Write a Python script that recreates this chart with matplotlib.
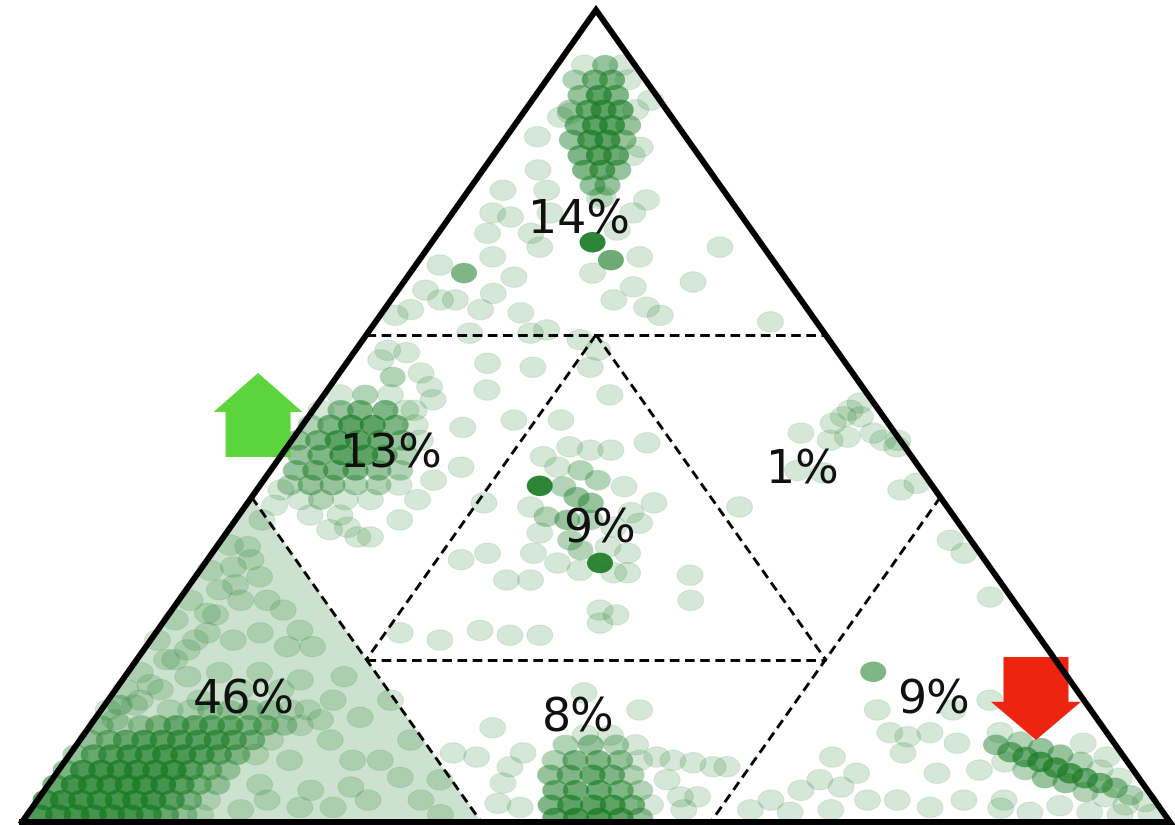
import numpy as np
import matplotlib
matplotlib.use("Agg")
import matplotlib.pyplot as plt
from matplotlib.path import Path
from matplotlib.patches import Polygon, FancyArrow

GREEN = '#177a22'
POINT_ALPHA = 0.18
EDGE_ALPHA = 0.12

# compositions as (top %, right %, n) ; left % = 100 - top - right
# n = how many observations sit on the same spot (default 1)
top_pts = [
    (93.2, 2.4, 1), (93.2, 4.2, 3), (93.2, 5.7, 1),
    (91.4, 2.5, 2), (91.4, 4.2, 4), (91.4, 5.7, 4), (91.4, 7.1, 1),
    (89.5, 3.9, 3), (89.5, 5.5, 6), (89.5, 7.0, 4),
    (87.7, 3.9, 2), (87.7, 5.5, 5), (87.7, 6.8, 6), (87.7, 8.3, 5), (87.7, 9.6, 1),
    (85.8, 5.5, 4), (85.8, 7.0, 6), (85.8, 8.5, 6), (85.8, 9.9, 3),
    (84.0, 5.9, 3), (84.0, 7.5, 6), (84.0, 9.0, 6), (84.0, 10.4, 3),
    (82.1, 7.6, 4), (82.1, 9.2, 6), (82.1, 10.7, 5), (82.1, 12.1, 1),
    (80.3, 8.9, 4), (80.3, 10.4, 5), (80.3, 11.8, 3),
    (78.4, 10.5, 3), (78.4, 11.8, 3), (76.8, 11.9, 1),
    (86.8, 3.5), (87.3, 4.1),
    (84.4, 2.7), (80.3, 4.8), (77.8, 3.0), (75.0, 3.5), (74.5, 5.3), (77.8, 6.8),
    (75.0, 8.5), (72.5, 4.3), (72.5, 8.1), (69.6, 6.2), (70.8, 9.7), (65.1, 8.5),
    (67.1, 9.3), (63.1, 8.4), (62.7, 12.1), (60.6, 15.4), (67.6, 15.9), (64.3, 19.4),
    (65.9, 20.3), (63.4, 22.7), (69.6, 19.0), (75.0, 15.7), (76.6, 16.1), (83.1, 12.3),
    (88.9, 10.3), (70.8, 25.4), (66.5, 25.2), (72.9, 15.4), (77.0, 12.1), (68.6, 2.1),
    (65.5, 2.4), (64.3, 4.3), (64.3, 5.6), (63.1, 2.3), (62.4, 1.3), (61.6, 34.4),
    (62.4, 24.4), (60.2, 14.2), (60.2, 8.9),
    (71.4, 14.0, 12), (69.2, 16.7, 5), (67.6, 4.7, 4),
]

left_pts = [
    (52.6, 1.4, 1), (52.6, 3.6, 2), (52.6, 5.8, 1),
    (50.7, 0.7, 1), (50.7, 2.4, 3), (50.7, 4.1, 4), (50.7, 6.3, 4), (50.7, 8.1, 1),
    (48.9, 0.7, 2), (48.9, 2.4, 4), (48.9, 4.2, 6), (48.9, 6.1, 6), (48.9, 8.1, 4), (48.9, 9.8, 1),
    (47.0, 0.5, 3), (47.0, 2.3, 4), (47.0, 4.0, 6), (47.0, 5.8, 6), (47.0, 7.7, 5),
    (47.0, 9.6, 3), (47.0, 11.2, 1),
    (45.2, 1.6, 3), (45.2, 3.4, 4), (45.2, 5.3, 6), (45.2, 7.3, 6), (45.2, 9.0, 4), (45.2, 10.8, 2),
    (43.3, 2.2, 3), (43.3, 3.9, 4), (43.3, 5.7, 4), (43.3, 7.4, 4), (43.3, 9.4, 3), (43.3, 11.3, 2),
    (41.5, 2.6, 2), (41.5, 4.4, 3), (41.5, 6.3, 3), (41.5, 8.3, 2), (41.5, 10.3, 2), (41.5, 12.1, 1),
    (39.7, 4.4), (39.7, 6.2, 2), (39.7, 8.3), (39.7, 10.5), (37.8, 6.2), (37.8, 8.8),
    (56.9, 2.8), (57.8, 4.6), (55.3, 7.1), (54.8, 4.9, 2), (53.6, 8.7), (52.0, 9.8),
    (50.7, 8.8), (58.1, 2.8),
    (35.1, 11.7), (35.1, 12.8), (36.3, 10.2), (37.2, 14.3), (39.7, 14.6), (42.1, 14.8),
    (43.7, 16.4), (48.6, 14.1), (53.2, 13.9), (56.5, 12.3), (56.0, 16.5), (49.5, 18.1),
    (59.4, 18.9), (36.0, 8.8), (40.9, 2.1), (39.0, 2.5),
]

centre_pts = [
    (46.2, 24.6), (45.8, 26.6), (45.8, 28.4), (46.7, 31.1), (45.0, 22.9), (43.7, 24.8),
    (43.3, 27.0, 2), (42.1, 29.1, 2), (41.3, 26.5, 2), (40.0, 28.3, 3), (39.3, 29.9, 3),
    (38.8, 24.9), (37.6, 26.9, 2), (37.2, 28.9, 3), (37.2, 30.9, 2), (36.3, 33.4),
    (41.3, 31.8), (39.3, 35.4), (38.1, 34.0), (35.6, 27.3), (34.7, 30.4, 2), (33.5, 31.9, 2),
    (33.9, 34.1), (33.1, 36.2), (33.1, 28.0), (31.9, 30.7), (31.0, 33.1), (30.7, 36.2),
    (30.7, 37.4), (29.8, 27.3), (29.8, 29.4), (33.1, 24.0), (39.3, 20.6),
    (41.4, 24.4, 12), (31.9, 34.4, 12),
    (49.5, 22.2), (52.6, 24.9), (26.1, 37.3), (25.5, 39.0), (23.6, 28.1), (23.0, 31.0),
    (23.0, 33.6), (27.3, 44.6), (30.4, 43.0), (36.8, 35.4), (24.5, 38.1), (56.0, 21.5),
    (58.1, 21.1), (32.3, 22.1), (23.3, 21.3), (22.4, 25.2),
]

right_pts = [
    (50.7, 46.8), (49.9, 46.6), (49.9, 48.1), (49.1, 46.1), (47.9, 43.9), (47.0, 46.9),
    (47.4, 48.2), (47.9, 50.2), (47.0, 51.5), (46.2, 53.1), (47.0, 52.8), (43.3, 45.9),
    (43.0, 48.3), (40.9, 56.1), (41.7, 57.1), (38.8, 43.1), (51.6, 47.2),
]

corner_pts = [
    (0.9, 1.1, 6), (0.9, 2.7, 7), (0.9, 4.3, 7), (0.9, 5.8, 7), (0.9, 7.4, 7),
    (0.9, 9.0, 7), (0.9, 10.6, 6), (0.9, 12.1, 4), (0.9, 13.7, 2),
    (2.7, 0.7, 6), (2.7, 2.2, 7), (2.7, 3.8, 7), (2.7, 5.4, 7), (2.7, 7.0, 7),
    (2.7, 8.5, 7), (2.7, 10.1, 7), (2.7, 11.7, 5), (2.7, 13.2, 3), (2.7, 14.8, 1),
    (4.6, 0.6, 4), (4.6, 2.2, 7), (4.6, 3.7, 7), (4.6, 5.3, 7), (4.6, 6.9, 7),
    (4.6, 8.4, 7), (4.6, 10.0, 7), (4.6, 11.6, 5), (4.6, 13.1, 3), (4.6, 14.7, 2),
    (6.4, 0.6, 3), (6.4, 2.1, 6), (6.4, 3.7, 7), (6.4, 5.3, 7), (6.4, 6.8, 7),
    (6.4, 8.4, 7), (6.4, 10.0, 7), (6.4, 11.5, 5), (6.4, 13.1, 3), (6.4, 14.7, 2),
    (8.3, 0.5, 2), (8.3, 2.1, 4), (8.3, 3.6, 5), (8.3, 5.2, 6), (8.3, 6.8, 6), (8.3, 8.3, 6),
    (8.3, 9.9, 6), (8.3, 11.5, 5), (8.3, 13.0, 4), (8.3, 14.6, 3), (8.3, 16.2, 1),
    (10.1, 0.9, 2), (10.1, 2.5, 3), (10.1, 4.0, 4), (10.1, 5.6, 5), (10.1, 7.2, 5),
    (10.1, 8.7, 5), (10.1, 10.3, 5), (10.1, 11.9, 5), (10.1, 13.4, 4), (10.1, 15.0, 3),
    (10.1, 16.6, 1),
    (11.9, 2.6, 1), (11.9, 4.4, 2), (11.9, 5.9, 3), (11.9, 7.5, 4), (11.9, 9.1, 4),
    (11.9, 10.6, 4), (11.9, 12.2, 4), (11.9, 13.8, 3), (11.9, 15.3, 3), (11.9, 16.9, 2),
    (11.9, 18.3, 1),
    (13.8, 6.0, 1), (13.8, 7.8, 1), (13.8, 9.5, 2), (13.8, 11.2, 2), (13.8, 13.0, 2),
    (13.8, 14.7, 2), (13.8, 16.5, 1), (13.8, 18.0, 1),
    (11.9, 0.9, 2), (14.4, 1.3, 2), (12.6, 1.8), (14.4, 2.6), (16.9, 2.7), (20.0, 3.3),
    (22.4, 3.9), (25.5, 4.1), (29.2, 4.0), (32.3, 3.8), (13.8, 0.6),
    (33.9, 2.7), (31.4, 2.7), (30.2, 5.6), (28.6, 2.9), (25.7, 3.3), (27.3, 5.4),
    (27.3, 7.7), (26.1, 9.7), (23.6, 12.4), (21.6, 14.5), (21.6, 12.3), (23.3, 9.1),
    (22.4, 7.2), (23.3, 4.5), (21.2, 3.8), (20.0, 2.6), (18.4, 1.1), (17.9, 5.5),
    (18.4, 8.0), (18.4, 11.5), (17.9, 19.1), (15.0, 19.6), (12.9, 23.0), (7.6, 27.4),
    (7.6, 25.0), (5.5, 30.2), (4.3, 26.5), (2.7, 28.8), (1.8, 26.2), (1.8, 23.3),
    (2.7, 20.0), (22.4, 0.6), (24.9, 0.9), (27.3, 1.0), (31.0, 0.9), (34.1, 1.1),
    (16.3, 0.9), (15.0, 2.8), (16.3, 3.9), (15.0, 8.0), (16.3, 10.9), (16.3, 14.4),
    (17.5, 15.5), (12.6, 19.7), (7.6, 19.5), (4.6, 18.4), (1.5, 18.3), (0.9, 15.1),
    (10.1, 21.8), (3.9, 23.2), (2.7, 33.4), (0.9, 36.0), (10.1, 28.8), (15.0, 24.6),
    (5.2, 33.8), (37.2, 2.3),
]

bottom_pts = [
    (10.7, 43.7, 1), (10.7, 45.9, 1),
    (9.5, 42.6, 2), (9.5, 44.8, 3), (9.5, 47.0, 2), (9.5, 48.7, 1),
    (7.6, 42.6, 2), (7.6, 44.4, 4), (7.6, 46.4, 4), (7.6, 48.3, 3), (7.6, 50.0, 1),
    (5.8, 43.1, 3), (5.8, 44.8, 4), (5.8, 46.8, 5), (5.8, 48.5, 4), (5.8, 50.2, 2),
    (3.9, 44.5, 4), (3.9, 46.3, 5), (3.9, 48.3, 5), (3.9, 50.2, 4), (3.9, 51.9, 2),
    (2.1, 45.0, 4), (2.1, 46.7, 6), (2.1, 48.7, 6), (2.1, 50.4, 6), (2.1, 52.1, 4), (2.1, 53.7, 1),
    (0.5, 46.2, 5), (0.5, 48.0, 7), (0.5, 50.0, 7), (0.5, 51.9, 6), (0.5, 53.6, 3),
    (11.6, 35.2), (8.5, 33.3), (8.0, 35.6), (8.5, 39.4), (6.8, 39.1), (4.8, 39.5),
    (2.3, 40.3), (1.8, 42.5), (13.8, 46.9), (15.9, 41.0), (8.0, 51.3), (7.6, 52.9),
    (7.3, 54.8), (6.8, 56.8), (6.8, 58.0), (5.2, 53.6), (3.1, 55.8), (3.1, 57.3), (1.5, 56.9),
]

rcorner_pts = [
    (9.5, 80.1, 3), (8.6, 81.8, 4), (8.0, 83.4, 5), (7.4, 85.0, 6), (6.7, 86.7, 6),
    (6.0, 88.3, 6), (5.4, 89.9, 5), (4.8, 91.5, 4), (4.2, 93.1, 3), (3.3, 94.9, 2),
    (2.5, 96.6, 1),
    (11.0, 79.7, 1), (9.9, 82.0, 2), (9.1, 84.2, 3), (8.3, 86.3, 3), (7.4, 88.5, 2),
    (6.4, 90.7, 1), (5.4, 92.9, 1),
    (7.4, 81.9, 1), (6.4, 84.2, 2), (5.4, 86.4, 3), (4.8, 88.5, 3), (3.7, 90.8, 2),
    (3.1, 92.8, 1), (2.1, 95.1, 1),
    (1.7, 84.4), (1.2, 87.2), (2.0, 89.4), (1.2, 92.4), (0.9, 95.2), (0.9, 97.9),
    (18.5, 64.9, 4), (13.8, 67.6), (15.0, 76.8), (13.8, 74.2), (11.0, 70.1), (10.5, 71.9),
    (11.0, 73.6), (9.7, 76.6), (8.5, 72.5), (8.0, 66.6), (6.0, 69.7), (4.3, 69.2),
    (6.0, 76.7), (6.4, 80.2), (2.7, 72.3), (1.5, 69.7), (2.7, 74.9), (1.8, 78.2),
    (2.7, 80.7), (2.7, 84.2), (8.0, 90.5), (9.7, 87.6), (3.9, 65.9), (2.7, 63.9),
    (1.2, 66.3), (5.2, 66.9), (34.7, 63.5), (33.1, 65.5), (27.7, 70.5), (1.5, 62.7),
]

region_share = [14, 13, 9, 1, 46, 8, 9]
label_top = [72.5, 43.7, 34.4, 41.7, 13.4, 11.1, 13.4]
label_right = [12.3, 10.3, 33.1, 47.1, 12.6, 42.9, 72.7]


def tern(top, right):
    # ternary (top, right) percentages -> cartesian position in the triangle
    top = np.asarray(top, dtype=float) / 100
    right = np.asarray(right, dtype=float) / 100
    return right + top / 2, top


def unpack(pts):
    top = [p[0] for p in pts]
    right = [p[1] for p in pts]
    n = [p[2] if len(p) > 2 else 1 for p in pts]
    return top, right, n


fig = plt.figure(figsize=(11.75, 8.25), dpi=100)
ax = fig.add_axes([0, 0, 1, 1])
ax.set_xlim(-0.0192, 1.0044)
ax.set_ylim(-0.0037, 1.0123)
ax.axis('off')

# left-corner region (left share > 60 %) shaded
cx, cy = tern([0, 40, 0], [0, 0, 40])
ax.add_patch(Polygon(np.column_stack([cx, cy]), closed=True,
                     facecolor=GREEN, alpha=0.22, edgecolor='none', zorder=1))

# slightly wide oval markers
theta = np.linspace(0, 2 * np.pi, 64)
oval = Path(np.column_stack([1.27 * np.cos(theta), np.sin(theta)]), closed=True)

all_top, all_right, all_n = [], [], []
for pts in [corner_pts, bottom_pts, rcorner_pts, left_pts, right_pts, centre_pts, top_pts]:
    t, r, n = unpack(pts)
    all_top += t
    all_right += r
    all_n += n
x, y = tern(all_top, all_right)
n = np.array(all_n)
order = np.argsort(n, kind='stable')
base = np.array(matplotlib.colors.to_rgba(GREEN))
face = np.tile(base, (len(n), 1))
face[:, 3] = 1 - (1 - POINT_ALPHA) ** n
edge = np.tile(base, (len(n), 1))
edge[:, 3] = np.where(n > 1, 0.0, EDGE_ALPHA)
ax.scatter(x[order], y[order], s=350, marker=oval, c=face[order],
           edgecolors=edge[order], linewidths=0.7, zorder=2)

# region boundaries
segments = [
    ((60, 0), (60, 40)),
    ((20, 20), (20, 60)),
    ((40, 0), (0, 40)),
    ((40, 60), (0, 60)),
    ((60, 20), (20, 20)),
    ((60, 20), (20, 60)),
]
for (t0, r0), (t1, r1) in segments:
    sx, sy = tern([t0, t1], [r0, r1])
    ax.plot(sx, sy, color='black', lw=2.1, dashes=(3.3, 1.9), zorder=3)

# arrows
ax.add_patch(FancyArrow(0.2056, 0.4495, 0, 0.1035, width=0.0566, head_width=0.0775,
                        head_length=0.048, length_includes_head=True,
                        color='#5cd43c', lw=0, zorder=2.5))
ax.add_patch(FancyArrow(0.8833, 0.2032, 0, -0.1022, width=0.0566, head_width=0.0784,
                        head_length=0.047, length_includes_head=True,
                        color='#ec2410', lw=0, zorder=4))

# outer triangle
ox, oy = tern([0, 0, 100, 0], [0, 100, 0, 0])
ax.plot(ox, oy, color='black', lw=4.3, solid_joinstyle='miter', clip_on=False, zorder=5)

lx, ly = tern(label_top, label_right)
for share, tx, ty in zip(region_share, lx, ly):
    ax.text(tx, ty, f'{share}%', ha='center', va='baseline', fontsize=33,
            color='#111111', family='DejaVu Sans', zorder=6)

fig.savefig('out.png', dpi=100)
